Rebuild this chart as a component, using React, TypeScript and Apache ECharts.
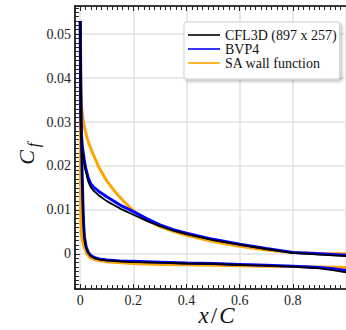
import React, { useEffect, useRef } from 'react';
import * as echarts from 'echarts';

const LEGEND_NAMES = ['CFL3D (897 x 257)', 'BVP4', 'SA wall function'];
const X_TICK_LABELS = ['0', '0.2', '0.4', '0.6', '0.8', '1'];
const Y_TICK_LABELS = ['0', '0.01', '0.02', '0.03', '0.04', '0.05'];

// CFL3D upper branch
const cflUpperX = [0.0, 0.001, 0.002, 0.004, 0.007, 0.01, 0.015, 0.02, 0.03, 0.04, 0.05, 0.07, 0.1, 0.15, 0.2, 0.25, 0.3, 0.35, 0.4, 0.5, 0.6, 0.7, 0.8, 0.9, 1.0];
const cflUpperY = [0.053, 0.040, 0.031, 0.027, 0.0243, 0.0227, 0.0207, 0.019, 0.0165, 0.0151, 0.0144, 0.0133, 0.0120, 0.0103, 0.0089, 0.0075, 0.0063, 0.0053, 0.0045, 0.0031, 0.0021, 0.0011, 0.0002, -0.0002, -0.0005];
// CFL3D lower branch
const cflLowerX = [0.0, 0.002, 0.004, 0.007, 0.01, 0.013, 0.016, 0.022, 0.03, 0.04, 0.055, 0.075, 0.1, 0.15, 0.2, 0.3, 0.4, 0.5, 0.6, 0.7, 0.8, 0.9, 0.95, 1.0];
const cflLowerY = [0.053, 0.040, 0.028, 0.018, 0.011, 0.006, 0.0035, 0.0015, 0.0003, -0.0005, -0.001, -0.0013, -0.0015, -0.0017, -0.0019, -0.0020, -0.0022, -0.0023, -0.0025, -0.0027, -0.0029, -0.0033, -0.0037, -0.0042];

// BVP4 upper branch
const bvpUpperX = [0.0, 0.001, 0.002, 0.004, 0.007, 0.01, 0.015, 0.02, 0.03, 0.04, 0.05, 0.07, 0.1, 0.15, 0.2, 0.25, 0.3, 0.35, 0.4, 0.5, 0.6, 0.7, 0.8, 0.9, 1.0];
const bvpUpperY = [0.053, 0.041, 0.032, 0.028, 0.0252, 0.0235, 0.0214, 0.0197, 0.0173, 0.0159, 0.0152, 0.0142, 0.0130, 0.0111, 0.0096, 0.0080, 0.0066, 0.0055, 0.0047, 0.0033, 0.0022, 0.0012, 0.0003, 0.0, -0.0003];
// BVP4 lower branch
const bvpLowerX = [0.0, 0.002, 0.004, 0.007, 0.01, 0.013, 0.016, 0.022, 0.03, 0.04, 0.055, 0.075, 0.1, 0.15, 0.2, 0.3, 0.4, 0.5, 0.6, 0.7, 0.8, 0.9, 0.95, 1.0];
const bvpLowerY = [0.053, 0.041, 0.029, 0.019, 0.0115, 0.0065, 0.0038, 0.0016, 0.0004, -0.0004, -0.0009, -0.0012, -0.0014, -0.0016, -0.0017, -0.0019, -0.0021, -0.0022, -0.0024, -0.0026, -0.0028, -0.0031, -0.0034, -0.0038];

// SA wall function upper branch
const saUpperX = [0.0, 0.002, 0.005, 0.01, 0.015, 0.025, 0.035, 0.05, 0.07, 0.1, 0.13, 0.16, 0.2, 0.25, 0.3, 0.35, 0.4, 0.5, 0.6, 0.7, 0.8, 0.9, 1.0];
const saUpperY = [0.038, 0.036, 0.0335, 0.031, 0.029, 0.0265, 0.0247, 0.0225, 0.0197, 0.0166, 0.0142, 0.0122, 0.0098, 0.0078, 0.0062, 0.0051, 0.0042, 0.0028, 0.0017, 0.0009, 0.0003, 0.0001, 0.0];
// SA wall function lower branch
const saLowerX = [0.0, 0.0005, 0.001, 0.0015, 0.002, 0.004, 0.008, 0.015, 0.025, 0.038, 0.06, 0.1, 0.2, 0.3, 0.4, 0.5, 0.6, 0.7, 0.8, 0.9, 1.0];
const saLowerY = [0.038, 0.030, 0.020, 0.013, 0.008, 0.0045, 0.003, 0.0015, 0.0, -0.0009, -0.0014, -0.0018, -0.0022, -0.0024, -0.0025, -0.0026, -0.0027, -0.0028, -0.0029, -0.0030, -0.0031];

const SERIF = "'Liberation Serif'";

function pairs(xs: number[], ys: number[]) {
  return xs.map((x, i) => [x, ys[i]]);
}

function fmt(labels: string[]) {
  return (v: number) => {
    const s = String(Math.round(v * 10000) / 10000);
    return labels.indexOf(s) >= 0 ? s : '';
  };
}

export default function App() {
  const ref = useRef<HTMLDivElement>(null);
  useEffect(() => {
    const chart = echarts.init(ref.current!, null, { renderer: 'svg' });
    const tickStyle = { color: '#222', width: 1 };
    const mkLine = (name: string, data: number[][], color: string, width: number, z: number) => ({
      name,
      type: 'line',
      data,
      showSymbol: false,
      symbol: 'none',
      color,
      lineStyle: { color, width },
      z,
      silent: true,
    });
    chart.setOption({
      animation: false,
      backgroundColor: '#fff',
      textStyle: { fontFamily: SERIF },
      grid: { left: 74.9, top: 6, width: 277.1, height: 283, containLabel: false },
      xAxis: [
        {
          type: 'value',
          min: -0.02,
          max: 1.0,
          splitNumber: 5,
          position: 'bottom',
          axisLine: { onZero: false, lineStyle: { color: '#000', width: 1.6 } },
          axisTick: { show: true, inside: true, length: 5, lineStyle: tickStyle },
          minorTick: { show: true, splitNumber: 10, length: 4, lineStyle: tickStyle },
          splitLine: { show: true, lineStyle: { color: '#e2e2e2', width: 1.5 } },
          minorSplitLine: { show: false },
          axisLabel: {
            showMinLabel: false,
            showMaxLabel: false,
            margin: 4,
            fontFamily: SERIF,
            fontSize: 14,
            color: '#222',
            formatter: fmt(X_TICK_LABELS),
          },
        },
        {
          type: 'value',
          min: -0.02,
          max: 1.0,
          splitNumber: 5,
          position: 'top',
          axisLine: { onZero: false, lineStyle: { color: '#000', width: 1.6 } },
          axisTick: { show: true, inside: true, length: 5, lineStyle: tickStyle },
          minorTick: { show: true, splitNumber: 10, length: 4, lineStyle: tickStyle },
          splitLine: { show: false },
          axisLabel: { show: false },
        },
      ],
      yAxis: [
        {
          type: 'value',
          min: -0.008,
          max: 0.0564,
          splitNumber: 5,
          axisLine: { show: true, onZero: false, lineStyle: { color: '#000', width: 1.6 } },
          axisTick: { show: true, inside: true, length: 5, lineStyle: tickStyle },
          minorTick: { show: true, splitNumber: 10, length: 4, lineStyle: tickStyle },
          splitLine: { show: true, lineStyle: { color: '#e2e2e2', width: 1.5 } },
          axisLabel: {
            showMinLabel: false,
            showMaxLabel: false,
            margin: 4,
            fontFamily: SERIF,
            fontSize: 14,
            color: '#222',
            formatter: fmt(Y_TICK_LABELS),
          },
        },
      ],
      legend: {
        data: LEGEND_NAMES,
        orient: 'vertical',
        left: 184,
        top: 22,
        padding: [6, 3, 9, 4],
        itemGap: 0,
        itemWidth: 32,
        itemHeight: 1.6,
        icon: 'rect',
        backgroundColor: '#fff',
        borderColor: '#cfcfcf',
        borderWidth: 1,
        borderRadius: 2,
        shadowColor: 'rgba(0,0,0,0.25)',
        shadowBlur: 3,
        shadowOffsetX: 2,
        shadowOffsetY: 2,
        selectedMode: false,
        textStyle: { fontFamily: SERIF, fontSize: 14, color: '#111', lineHeight: 13 },
      },
      series: [
        mkLine(LEGEND_NAMES[2], pairs(saUpperX, saUpperY), '#ffa500', 3, 1),
        mkLine(LEGEND_NAMES[2], pairs(saLowerX, saLowerY), '#ffa500', 3, 1),
        mkLine(LEGEND_NAMES[1], pairs(bvpUpperX, bvpUpperY), '#0000ff', 3, 2),
        mkLine(LEGEND_NAMES[1], pairs(bvpLowerX, bvpLowerY), '#0000ff', 3, 2),
        mkLine(LEGEND_NAMES[0], pairs(cflUpperX, cflUpperY), '#000000', 1.8, 3),
        mkLine(LEGEND_NAMES[0], pairs(cflLowerX, cflLowerY), '#000000', 1.8, 3),
      ],
      graphic: [
        {
          type: 'text',
          x: 216.5,
          y: 315,
          style: {
            text: '{i|x}{s|/}{i|C}',
            align: 'center',
            verticalAlign: 'middle',
            rich: {
              i: { fontFamily: SERIF, fontStyle: 'italic', fontSize: 23, fill: '#111' },
              s: { fontFamily: SERIF, fontSize: 23, fill: '#111', padding: [0, 2, 0, 2] },
            },
          },
        },
        {
          type: 'text',
          x: 26,
          y: 157.5,
          rotation: Math.PI / 2,
          style: {
            text: 'C',
            align: 'center',
            verticalAlign: 'middle',
            fontFamily: SERIF,
            fontStyle: 'italic',
            fontSize: 22,
            fill: '#111',
          },
        },
        {
          type: 'text',
          x: 33,
          y: 145,
          rotation: Math.PI / 2,
          style: {
            text: 'f',
            align: 'center',
            verticalAlign: 'middle',
            fontFamily: SERIF,
            fontStyle: 'italic',
            fontSize: 16,
            fill: '#111',
          },
        },
      ],
    });
    return () => chart.dispose();
  }, []);
  return (
    <div
      ref={ref}
      style={{ position: 'fixed', left: 0, top: 0, width: 346, height: 330, background: '#fff' }}
    />
  );
}
